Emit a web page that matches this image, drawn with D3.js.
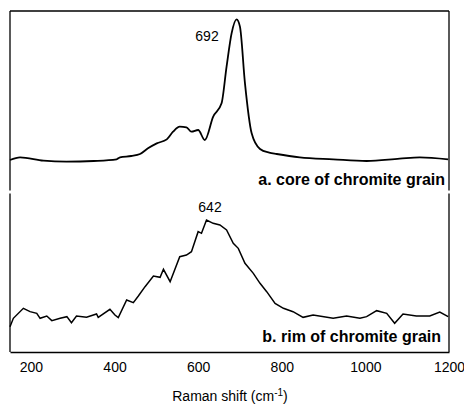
<!DOCTYPE html>
<html><head><meta charset="utf-8">
<script src="https://cdn.jsdelivr.net/npm/d3@7"></script>
<style>body{margin:0;background:#fff} text{font-family:"Liberation Sans",Arial,sans-serif}</style>
</head><body>
<svg id="fig" width="464" height="409"></svg>
<script>
// spectrum a: core (Raman shift cm-1, relative intensity)
let coreShift = [150,174,230,285,350,405,413,440,461,480,501,525,540,556,572,584,600,616,636,656,668,680,692,700,712,728,748,770,788,843,923,1003,1082,1130,1198];
let coreInt = [0,8,-2,-5,-3,2,8,12,18,35,50,62,85,100,98,85,90,60,130,170,280,380,422,400,230,80,33,22,18,8,2,-3,4,8,2];

// spectrum b: rim
let rimShift = [150,158,182,198,214,222,238,250,270,286,297,309,333,357,361,389,401,409,429,445,457,473,493,509,517,533,556,572,584,600,608,620,636,652,668,684,696,712,732,748,764,784,804,827,851,875,923,955,987,1003,1027,1051,1070,1090,1122,1154,1178,1198];
let rimInt = [-10,15,45,35,30,15,22,8,15,20,2,22,18,28,18,42,25,17,70,62,82,110,142,138,162,125,200,205,215,275,270,310,300,295,280,240,225,180,150,120,95,60,45,35,18,25,15,22,15,20,38,30,0,28,22,22,34,20];

let xTicks = [200,400,600,800,1000,1200];

let svg = d3.select("#fig");
let x = d3.scaleLinear().domain([150,1200]).range([10,449]);
let yA = d3.scaleLinear().domain([-90,447]).range([190,11]);
let yB = d3.scaleLinear().domain([-86,391]).range([352,193]);

// frames
let frame = svg.append("g").attr("stroke","#000").attr("stroke-width",1.3);
frame.append("line").attr("x1",10).attr("x2",449).attr("y1",11).attr("y2",11);
[10,449].forEach(px => {
  frame.append("line").attr("x1",px).attr("x2",px).attr("y1",11).attr("y2",190.5);
  frame.append("line").attr("x1",px).attr("x2",px).attr("y1",193.5).attr("y2",352);
});

let lineA = d3.line().x((d,i) => x(coreShift[i])).y(d => yA(d)).curve(d3.curveMonotoneX);
let lineB = d3.line().x((d,i) => x(rimShift[i])).y(d => yB(d)).curve(d3.curveLinear);
svg.append("path").attr("d",lineA(coreInt)).attr("fill","none").attr("stroke","#000").attr("stroke-width",1.8);
svg.append("path").attr("d",lineB(rimInt)).attr("fill","none").attr("stroke","#000").attr("stroke-width",1.5);

let ax = svg.append("g").attr("transform","translate(0,352)")
  .call(d3.axisBottom(x).tickValues(xTicks).tickFormat(d3.format("d")).tickSize(0).tickPadding(10));
ax.select(".domain").attr("stroke-width",1.3);
ax.selectAll("text").style("font-size","14px").attr("fill","#000");

svg.append("text").attr("x",207).attr("y",41).attr("text-anchor","middle").style("font-size","14px").text("692");
svg.append("text").attr("x",210).attr("y",212).attr("text-anchor","middle").style("font-size","14px").text("642");
svg.append("text").attr("x",445).attr("y",185).attr("text-anchor","end").style("font-size","16px").style("font-weight","bold").text("a. core of chromite grain");
svg.append("text").attr("x",441).attr("y",342).attr("text-anchor","end").style("font-size","16px").style("font-weight","bold").text("b. rim of chromite grain");

let t = svg.append("text").attr("x",230).attr("y",401).attr("text-anchor","middle").style("font-size","14px");
t.append("tspan").text("Raman shift (cm");
t.append("tspan").attr("dy",-5).style("font-size","10px").text("-1");
t.append("tspan").attr("dy",5).text(")");
</script>
</body></html>
